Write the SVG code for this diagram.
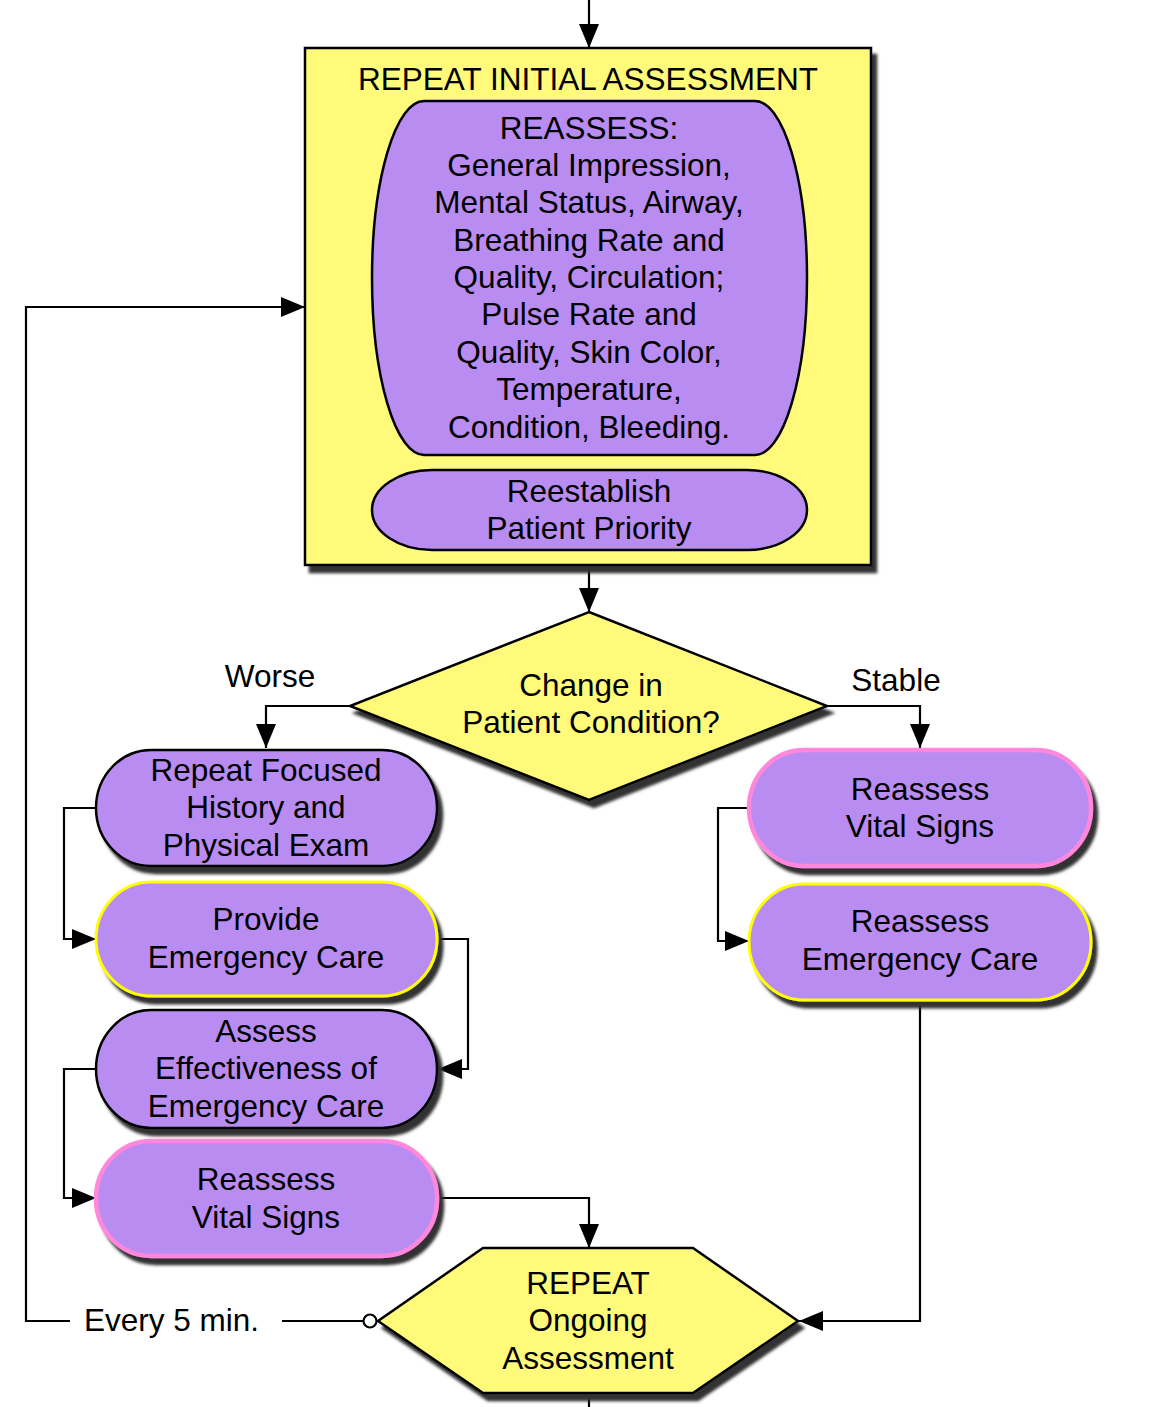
<svg xmlns="http://www.w3.org/2000/svg" width="1158" height="1407" viewBox="0 0 1158 1407">
<defs>
<filter id="sh" x="-10%" y="-10%" width="130%" height="135%">
<feDropShadow dx="5" dy="7" stdDeviation="1.6" flood-color="#333333" flood-opacity="1"/>
</filter>
<marker id="arr" markerUnits="userSpaceOnUse" markerWidth="24" markerHeight="20" refX="24" refY="10" orient="auto">
<path d="M0,0 L24,10 L0,20 z" fill="#000"/>
</marker>
</defs>
<style>
text{font-family:"Liberation Sans",Arial,sans-serif;font-size:31.5px;fill:#000;text-anchor:middle}
.yel{fill:#FFFA7A;stroke:#000;stroke-width:2.5}
.pur{fill:#B88CF0;stroke:#000;stroke-width:2.5}
.pk{fill:#B88CF0;stroke:#FF88DD;stroke-width:4.5}
.yl{fill:#B88CF0;stroke:#FFFF00;stroke-width:3}
.c{fill:none;stroke:#000;stroke-width:2.2}
.lbl{text-anchor:start}
</style>
<g id="connectors">
<path class="c" d="M589,0 V48" marker-end="url(#arr)"/>
<path class="c" d="M589,565 V612" marker-end="url(#arr)"/>
<path class="c" d="M350,706 H266 V748" marker-end="url(#arr)"/>
<path class="c" d="M827,706 H920 V748" marker-end="url(#arr)"/>
<path class="c" d="M96,808 H64 V939 H96" marker-end="url(#arr)"/>
<path class="c" d="M437,939 H468 V1069 H438" marker-end="url(#arr)"/>
<path class="c" d="M96,1069 H64 V1198 H96" marker-end="url(#arr)"/>
<path class="c" d="M437,1198 H589 V1248" marker-end="url(#arr)"/>
<path class="c" d="M749,808 H718 V941 H749" marker-end="url(#arr)"/>
<path class="c" d="M920,1000 V1321 H799" marker-end="url(#arr)"/>
<path class="c" d="M589,1393 V1407"/>
<path class="c" d="M364,1321 H282"/>
<path class="c" d="M70,1321 H26 V307 H305" marker-end="url(#arr)"/>
<circle cx="370" cy="1321" r="6.5" fill="#fff" stroke="#000" stroke-width="2.2"/>
<text class="lbl" x="84" y="1331">Every 5 min.</text>
<text x="270" y="687">Worse</text>
<text x="896" y="691">Stable</text>
</g>
<g id="initial">
<rect class="yel" x="305" y="48" width="566" height="517" filter="url(#sh)" stroke-width="3"/>
<text x="588" y="90">REPEAT INITIAL ASSESSMENT</text>
</g>
<g id="reassess">
<rect class="pur" x="372" y="101" width="435" height="354" rx="52" ry="177"/>
<text x="589" y="139">REASSESS:</text>
<text x="589" y="176">General Impression,</text>
<text x="589" y="213">Mental Status, Airway,</text>
<text x="589" y="251">Breathing Rate and</text>
<text x="589" y="288">Quality, Circulation;</text>
<text x="589" y="325">Pulse Rate and</text>
<text x="589" y="363">Quality, Skin Color,</text>
<text x="589" y="400">Temperature,</text>
<text x="589" y="438">Condition, Bleeding.</text>
</g>
<g id="priority">
<rect class="pur" x="372" y="470" width="435" height="80" rx="60" ry="40"/>
<text x="589" y="502">Reestablish</text>
<text x="589" y="539">Patient Priority</text>
</g>
<g id="decision">
<polygon class="yel" points="589,612 827,706 589,800 350,706" filter="url(#sh)"/>
<text x="591" y="696">Change in</text>
<text x="591" y="733">Patient Condition?</text>
</g>
<g id="focused">
<rect class="pur" x="96" y="750" width="341" height="116" rx="55" ry="58" filter="url(#sh)"/>
<text x="266" y="781">Repeat Focused</text>
<text x="266" y="818">History and</text>
<text x="266" y="856">Physical Exam</text>
</g>
<g id="provide">
<rect class="yl" x="96" y="882" width="341" height="114" rx="55" ry="57" filter="url(#sh)"/>
<text x="266" y="930">Provide</text>
<text x="266" y="968">Emergency Care</text>
</g>
<g id="effectiveness">
<rect class="pur" x="96" y="1010" width="341" height="118" rx="55" ry="59" filter="url(#sh)"/>
<text x="266" y="1042">Assess</text>
<text x="266" y="1079">Effectiveness of</text>
<text x="266" y="1117">Emergency Care</text>
</g>
<g id="vitalsL">
<rect class="pk" x="96" y="1141" width="341" height="115" rx="55" ry="57" filter="url(#sh)"/>
<text x="266" y="1190">Reassess</text>
<text x="266" y="1228">Vital Signs</text>
</g>
<g id="vitalsR">
<rect class="pk" x="749" y="750" width="342" height="116" rx="55" ry="58" filter="url(#sh)"/>
<text x="920" y="800">Reassess</text>
<text x="920" y="837">Vital Signs</text>
</g>
<g id="careR">
<rect class="yl" x="749" y="884" width="342" height="116" rx="55" ry="58" filter="url(#sh)"/>
<text x="920" y="932">Reassess</text>
<text x="920" y="970">Emergency Care</text>
</g>
<g id="ongoing">
<polygon class="yel" points="483,1248 693,1248 798,1321 693,1393 483,1393 378,1321" filter="url(#sh)"/>
<text x="588" y="1294">REPEAT</text>
<text x="588" y="1331">Ongoing</text>
<text x="588" y="1369">Assessment</text>
</g>
</svg>
